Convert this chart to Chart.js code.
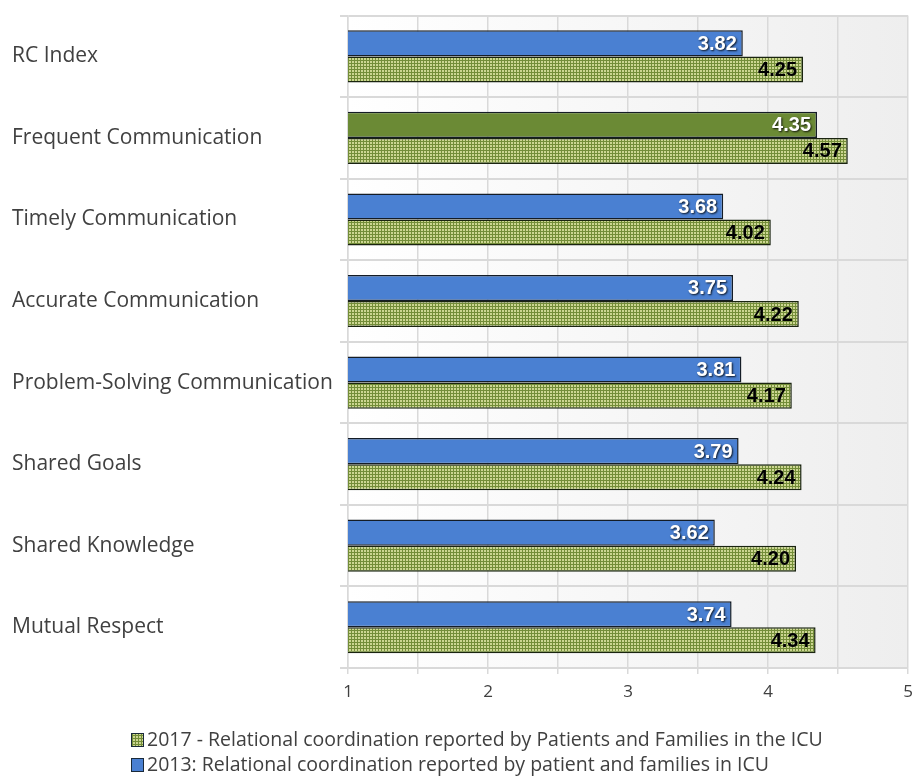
<!DOCTYPE html>
<html>
<head>
<meta charset="utf-8">
<script src="https://cdn.jsdelivr.net/npm/chart.js@4.4.0/dist/chart.umd.min.js"></script>
<style>
  html, body { margin: 0; padding: 0; background: #fff; }
  #wrap { width: 923px; height: 779px; position: relative; }
</style>
</head>
<body>
<div id="wrap"><canvas id="chart"></canvas></div>
<script>
// Data
const categories = [
  "RC Index",
  "Frequent Communication",
  "Timely Communication",
  "Accurate Communication",
  "Problem-Solving Communication",
  "Shared Goals",
  "Shared Knowledge",
  "Mutual Respect",
];
const values2013 = [3.82, 4.35, 3.68, 3.75, 3.81, 3.79, 3.62, 3.74];
const values2017 = [4.25, 4.57, 4.02, 4.22, 4.17, 4.24, 4.20, 4.34];
const xTicks = [1, 2, 3, 4, 5];
const label2013 = "2013: Relational coordination reported by patient and families in ICU";
const label2017 = "2017 - Relational coordination reported by Patients and Families in the ICU";

const BLUE = "#4a80d2";
const OLIVE = "#6b8a35";
const highlightIndex = 1;

// dotted green fill like the original
const makePattern = () => {
  const c = document.createElement("canvas");
  c.width = 3;
  c.height = 3;
  const g = c.getContext("2d");
  g.fillStyle = "#738d38";
  g.fillRect(0, 0, 3, 3);
  g.fillStyle = "#ccd692";
  g.fillRect(1, 1, 2, 2);
  return g.createPattern(c, "repeat");
};
const dotted = makePattern();

// plot background, white to light grey
const plotBg = {
  id: "plotBg",
  beforeDraw(chart) {
    const { ctx, chartArea: a } = chart;
    const grad = ctx.createLinearGradient(a.left, 0, a.right, 0);
    grad.addColorStop(0, "#ffffff");
    grad.addColorStop(1, "#eeeeee");
    ctx.save();
    ctx.fillStyle = grad;
    ctx.fillRect(a.left, a.top, a.right - a.left, a.bottom - a.top);
    ctx.restore();
  },
};

// values at the end of each bar
const barValues = {
  id: "barValues",
  afterDatasetsDraw(chart) {
    const ctx = chart.ctx;
    ctx.save();
    ctx.font = "bold 20px 'Liberation Sans', Arial, sans-serif";
    ctx.textAlign = "right";
    ctx.textBaseline = "middle";
    chart.data.datasets.forEach((ds, i) => {
      chart.getDatasetMeta(i).data.forEach((bar, j) => {
        const txt = ds.data[j].toFixed(2);
        if (i === 0) {
          ctx.fillStyle = "#ffffff";
          ctx.shadowColor = "rgba(0,0,0,0.85)";
          ctx.shadowBlur = 2;
          ctx.shadowOffsetX = 1;
          ctx.shadowOffsetY = 1;
        } else {
          ctx.fillStyle = "#000000";
          ctx.shadowColor = "rgba(255,255,255,0.4)";
          ctx.shadowBlur = 1;
          ctx.shadowOffsetX = 0;
          ctx.shadowOffsetY = 0;
        }
        ctx.fillText(txt, bar.x - 6, bar.y + 1);
      });
    });
    ctx.restore();
  },
};

// two-line legend under the axis
const bottomLegend = {
  id: "bottomLegend",
  afterDraw(chart) {
    const ctx = chart.ctx;
    const rows = [
      { text: label2017, fill: dotted, y: 740 },
      { text: label2013, fill: BLUE, y: 765 },
    ];
    ctx.save();
    ctx.font = "19.5px 'Open Sans', sans-serif";
    ctx.textBaseline = "middle";
    ctx.textAlign = "left";
    rows.forEach((r) => {
      ctx.fillStyle = r.fill;
      ctx.fillRect(131, r.y - 7, 13, 14);
      ctx.strokeStyle = "#1a2a3a";
      ctx.lineWidth = 1;
      ctx.strokeRect(131.5, r.y - 6.5, 12, 13);
      ctx.fillStyle = "#404040";
      ctx.fillText(r.text, 147, r.y);
    });
    ctx.restore();
  },
};

const ctx = document.getElementById("chart");

const chart = new Chart(ctx, {
  type: "bar",
  data: {
    labels: categories,
    datasets: [
      {
        label: label2013,
        data: values2013,
        backgroundColor: values2013.map((v, i) => (i === highlightIndex ? OLIVE : BLUE)),
        borderColor: "#141c26",
        borderWidth: 1.5,
        borderSkipped: false,
        categoryPercentage: 0.64,
        barPercentage: 1.0,
      },
      {
        label: label2017,
        data: values2017,
        backgroundColor: dotted,
        borderColor: "#1a2410",
        borderWidth: 1.5,
        borderSkipped: false,
        categoryPercentage: 0.64,
        barPercentage: 1.0,
      },
    ],
  },
  options: {
    indexAxis: "y",
    responsive: true,
    maintainAspectRatio: false,
    animation: false,
    layout: {
      padding: { left: 12, right: 15, top: 12, bottom: 71 },
    },
    plugins: {
      legend: { display: false },
      tooltip: { enabled: false },
    },
    scales: {
      x: {
        min: 1,
        max: 5,
        base: 1,
        ticks: {
          stepSize: 0.5,
          color: "#404040",
          font: { family: "'Open Sans', sans-serif", size: 17 },
          padding: 8,
          callback: (v) => (xTicks.includes(v) ? String(v) : ""),
        },
        grid: {
          color: "#d9d9d9",
          lineWidth: 1.5,
          tickLength: 6,
        },
        border: { color: "#d9d9d9", width: 1.5 },
        afterFit: (scale) => {
          scale.height = 40;
        },
      },
      y: {
        ticks: {
          crossAlign: "far",
          color: "#404040",
          font: { family: "'Open Sans', sans-serif", size: 21 },
        },
        grid: {
          offset: true,
          color: "#d9d9d9",
          lineWidth: 2,
          tickLength: 8,
        },
        border: { color: "#d9d9d9", width: 1.5 },
        afterFit: (scale) => {
          scale.width = 336;
        },
      },
    },
  },
  plugins: [plotBg, barValues, bottomLegend],
});
</script>
</body>
</html>
